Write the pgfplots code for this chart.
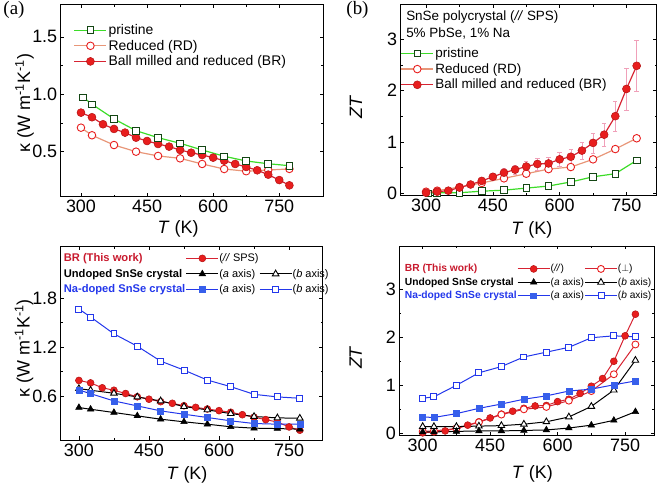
\documentclass[border=0pt]{standalone}
\usepackage{pgfplots}
\pgfplotsset{compat=1.18}
\usepackage{fontspec}
\setmainfont{Liberation Sans}
\newfontfamily\seriffont{Liberation Serif}
\definecolor{cgreen}{RGB}{60,220,40}
\definecolor{cdkgreen}{RGB}{20,70,20}
\definecolor{csalmon}{RGB}{232,150,120}
\definecolor{cred}{RGB}{232,30,30}
\definecolor{cdkred}{RGB}{180,20,20}
\definecolor{cline}{RGB}{215,35,50}
\definecolor{cblue}{RGB}{35,55,235}
\definecolor{cblfill}{RGB}{55,95,235}
\definecolor{cbrtext}{RGB}{200,25,45}
\definecolor{cpink}{RGB}{240,160,185}
\newcommand{\cc}[2]{\fontsize{#1}{12}\selectfont\bfseries #2}
\pgfplotsset{
  base/.style={
    scale only axis, anchor=south west,
    tick align=inside,
    major tick length=3.5bp, minor tick length=2bp,
    xtick={300,450,600,750}, minor x tick num=1, minor y tick num=1,
    every tick/.style={black, line width=0.5pt},
    axis line style={line width=0.8pt},
    tick label style={font=\fontsize{18}{20}\selectfont},
    /pgf/number format/assume math mode=true,
    label style={font=\fontsize{18}{20}\selectfont},
    xlabel={\textit{T} (K)},
    legend cell align=left,
    legend style={draw=none, fill=none, inner sep=0pt, outer sep=0pt, anchor=north west, nodes={inner sep=1.5pt}},
    legend image code/.code={\draw[mark repeat=2,mark phase=2,##1] plot coordinates {(0bp,0bp) (16bp,0bp) (32bp,0bp)};},
  },
  kappa/.style={ylabel={κ (W m\textsuperscript{-1}K\textsuperscript{-1})}},
  prist/.style={color=cgreen, line width=1.2pt, mark=square*, mark size=3.3, mark options={fill=white, draw=cdkgreen, line width=0.9pt}},
  rd/.style={color=csalmon, line width=1.2pt, mark=*, mark size=3.8, mark options={fill=white, draw=cred, line width=0.9pt}},
  br/.style={color=cline, line width=1.2pt, mark=*, mark size=4, mark options={fill=cred, draw=cdkred, line width=0.5pt}},
  brs/.style={color=cline, line width=1pt, mark=*, mark size=3.5, mark options={fill=cred, draw=cdkred, line width=0.5pt}},
  brperp/.style={color=cline, line width=1pt, mark=*, mark size=3.5, mark options={fill=white, draw=cred, line width=0.9pt}},
  unda/.style={color=black, line width=1pt, mark=triangle*, mark size=3.8, mark options={fill=black, draw=black, line width=0.5pt}},
  undb/.style={color=black, line width=1pt, mark=triangle*, mark size=3.8, mark options={fill=white, draw=black, line width=0.9pt}},
  naa/.style={color=cblue, line width=1pt, mark=square*, mark size=3, mark options={fill=cblfill, draw=cblfill, line width=0.5pt}},
  nab/.style={color=cblue, line width=1pt, mark=square*, mark size=3, mark options={fill=white, draw=cblue, line width=0.9pt}},
  smallleg/.style={legend columns=3,
    legend style={nodes={inner sep=0.5pt}, font=\fontsize{#1}{12}\selectfont},
    legend image code/.code={\draw[mark repeat=2,mark phase=2,##1] plot coordinates {(0bp,0bp) (16bp,0bp) (32bp,0bp)};}},
}
\begin{document}
\begin{tikzpicture}
\useasboundingbox (0,0) rectangle (661bp,489bp);
\node[font=\seriffont\fontsize{19}{21}\selectfont] at (14bp,479bp) {(a)};
\node[font=\seriffont\fontsize{19}{21}\selectfont] at (357.5bp,479bp) {(b)};
% ---------------- (a)
\begin{axis}[base, kappa, at={(60.7bp,292.3bp)}, width=262.6bp, height=192bp,
  xmin=254, xmax=850, ymin=0.108, ymax=1.78,
  ytick={0.5,1.0,1.5},
  yticklabel style={/pgf/number format/.cd, fixed, fixed zerofill, precision=1},
  xlabel style={at={(axis description cs:0.447,-0.168)}, anchor=center},
  ylabel style={at={(axis description cs:-0.138,0.488)}, anchor=center},
  legend style={at={(axis description cs:0.05,0.905)}, font=\fontsize{14}{17}\selectfont, row sep=1pt}]
\addplot[rd, forget plot] coordinates {(300,0.709)(325,0.643)(375,0.558)(425,0.5)(475,0.463)(525,0.442)(575,0.393)(625,0.349)(675,0.33)(725,0.34)(773,0.35)};
\addplot[br, forget plot] coordinates {(300,0.84)(325,0.80)(350,0.739)(375,0.698)(400,0.666)(425,0.622)(450,0.593)(475,0.567)(500,0.544)(525,0.515)(550,0.491)(575,0.471)(600,0.448)(625,0.422)(650,0.393)(675,0.367)(700,0.338)(725,0.30)(750,0.253)(773,0.207)};
\addplot[prist, forget plot] coordinates {(305,0.974)(325,0.913)(375,0.785)(425,0.683)(475,0.622)(525,0.573)(575,0.515)(625,0.46)(675,0.419)(725,0.395)(773,0.378)};
\addlegendimage{prist}\addlegendentry{pristine}
\addlegendimage{rd}\addlegendentry{Reduced (RD)}
\addlegendimage{br}\addlegendentry{Ball milled and reduced (BR)}
\end{axis}
% ---------------- (b)
\begin{axis}[base, at={(400.7bp,293.7bp)}, width=256bp, height=190.6bp,
  xmin=243, xmax=818, ymin=-0.04, ymax=3.67,
  ytick={0,1,2,3}, ylabel={\textit{ZT}},
  xlabel style={at={(axis description cs:0.512,-0.182)}, anchor=center},
  ylabel style={at={(axis description cs:-0.175,0.463)}, anchor=center},
  legend style={at={(axis description cs:0.0,0.782)}, font=\fontsize{13.5}{16}\selectfont, row sep=1.5pt}]
\addplot[prist] coordinates {(305,0.0)(325,0.01)(375,0.01)(425,0.04)(475,0.06)(525,0.10)(575,0.14)(625,0.22)(675,0.32)(725,0.38)(773,0.64)};
\addlegendentry{pristine}
\addplot[rd] coordinates {(300,0.03)(325,0.05)(375,0.12)(425,0.2)(475,0.29)(525,0.38)(575,0.47)(625,0.51)(675,0.66)(725,0.86)(773,1.07)};
\addlegendentry{Reduced (RD)}
\addplot[br, error bars/.cd, y dir=both, y explicit,
  error bar style={cpink, line width=0.5pt},
  error mark options={rotate=90, cpink, mark size=2.2pt, line width=0.5pt}]
  coordinates {(300,0.01)+-(0,0.002)(325,0.03)+-(0,0.006)(350,0.05)+-(0,0.01)(375,0.11)+-(0,0.022)(400,0.17)+-(0,0.034)(425,0.24)+-(0,0.048)(450,0.32)+-(0,0.064)(475,0.40)+-(0,0.08)(500,0.46)+-(0,0.092)(525,0.52)+-(0,0.104)(550,0.57)+-(0,0.114)(575,0.58)+-(0,0.116)(600,0.66)+-(0,0.132)(625,0.71)+-(0,0.142)(650,0.83)+-(0,0.166)(675,0.98)+-(0,0.196)(700,1.14)+-(0,0.228)(725,1.50)+-(0,0.30)(750,2.03)+-(0,0.41)(773,2.48)+-(0,0.5)};
\addlegendentry{Ball milled and reduced (BR)}
\node[anchor=west, font=\fontsize{13.5}{16}\selectfont] at (axis description cs:0.008,0.937) {SnSe polycrystal (\textit{//} SPS)};
\node[anchor=west, font=\fontsize{13.5}{16}\selectfont] at (axis description cs:0.008,0.85) {5\% PbSe, 1\% Na};
\end{axis}
% ---------------- (c)
\begin{axis}[base, kappa, smallleg=11, at={(60.7bp,49bp)}, width=262bp, height=193.3bp,
  xmin=261, xmax=822, ymin=0.06, ymax=2.43,
  ytick={0.6,1.2,1.8},
  yticklabel style={/pgf/number format/.cd, fixed, fixed zerofill, precision=1},
  xlabel style={at={(axis description cs:0.482,-0.181)}, anchor=center},
  ylabel style={at={(axis description cs:-0.14,0.474)}, anchor=center},
  legend style={at={(axis description cs:0.01,0.967)}, row sep=5pt}]
\addplot[brs, forget plot] coordinates {(300,0.79)(325,0.76)(350,0.70)(375,0.67)(400,0.63)(425,0.59)(450,0.56)(475,0.53)(500,0.51)(525,0.48)(550,0.46)(575,0.44)(600,0.42)(625,0.40)(650,0.37)(675,0.34)(700,0.31)(725,0.28)(750,0.22)(773,0.18)};
\addplot[undb, forget plot] coordinates {(300,0.69)(325,0.67)(375,0.633)(425,0.588)(475,0.539)(525,0.47)(575,0.429)(625,0.384)(675,0.348)(725,0.331)(773,0.327)};
\addplot[unda, forget plot] coordinates {(300,0.458)(325,0.437)(375,0.397)(425,0.356)(475,0.315)(525,0.283)(575,0.254)(625,0.222)(675,0.205)(725,0.2)(773,0.193)};
\addplot[naa, forget plot] coordinates {(300,0.673)(325,0.628)(375,0.539)(425,0.478)(475,0.417)(525,0.376)(575,0.336)(625,0.295)(675,0.262)(725,0.254)(773,0.254)};
\addplot[nab, forget plot] coordinates {(300,1.666)(325,1.568)(375,1.361)(425,1.21)(475,1.027)(525,0.917)(575,0.795)(625,0.714)(675,0.62)(725,0.588)(773,0.572)};
\addlegendimage{empty legend}\addlegendentry{\cc{11.2}{\textcolor{cbrtext}{BR (This work)}}}
\addlegendimage{brs}\addlegendentry{(\textit{//} SPS)}
\addlegendimage{empty legend}\addlegendentry{}
\addlegendimage{empty legend}\addlegendentry{\cc{11.2}{Undoped SnSe crystal}}
\addlegendimage{unda}\addlegendentry{(\textit{a} axis)}
\addlegendimage{undb}\addlegendentry{(\textit{b} axis)}
\addlegendimage{empty legend}\addlegendentry{\cc{11.2}{\textcolor{cblue}{Na-doped SnSe crystal}}}
\addlegendimage{naa}\addlegendentry{(\textit{a} axis)}
\addlegendimage{nab}\addlegendentry{(\textit{b} axis)}
\end{axis}
% ---------------- (d)
\begin{axis}[base, smallleg=10.2, at={(399.3bp,54bp)}, width=255bp, height=189bp,
  xmin=248, xmax=815, ymin=-0.035, ymax=3.9,
  ytick={0,1,2,3}, ylabel={\textit{ZT}},
  xlabel style={at={(axis description cs:0.522,-0.205)}, anchor=center},
  ylabel style={at={(axis description cs:-0.171,0.41)}, anchor=center},
  legend style={at={(axis description cs:0.02,0.905)}, row sep=3.5pt}]
\addplot[brs, forget plot] coordinates {(300,0.01)(325,0.03)(350,0.05)(375,0.11)(400,0.17)(425,0.24)(450,0.32)(475,0.40)(500,0.46)(525,0.52)(550,0.57)(575,0.58)(600,0.66)(625,0.71)(650,0.83)(675,0.98)(700,1.14)(725,1.50)(750,2.03)(773,2.48)};
\addplot[brperp, forget plot] coordinates {(300,0.04)(325,0.05)(375,0.10)(425,0.23)(475,0.39)(525,0.50)(575,0.55)(625,0.68)(675,0.88)(725,1.23)(773,1.85)};
\addplot[undb, forget plot] coordinates {(300,0.14)(325,0.14)(375,0.14)(425,0.15)(475,0.16)(525,0.19)(575,0.24)(625,0.34)(675,0.56)(725,0.90)(773,1.52)};
\addplot[unda, forget plot] coordinates {(300,0.03)(325,0.03)(375,0.04)(425,0.05)(475,0.05)(525,0.06)(575,0.07)(625,0.11)(675,0.17)(725,0.27)(773,0.45)};
\addplot[naa, forget plot] coordinates {(300,0.34)(325,0.33)(375,0.41)(425,0.52)(475,0.61)(525,0.71)(575,0.78)(625,0.88)(675,0.92)(725,1.01)(773,1.09)};
\addplot[nab, forget plot] coordinates {(300,0.73)(325,0.76)(375,1.0)(425,1.26)(475,1.39)(525,1.59)(575,1.69)(625,1.79)(675,1.99)(725,2.03)(773,2.01)};
\addlegendimage{empty legend}\addlegendentry{\cc{10.3}{\textcolor{cbrtext}{BR (This work)}}}
\addlegendimage{brs}\addlegendentry{(\textit{//})}
\addlegendimage{brperp}\addlegendentry{($\perp$)}
\addlegendimage{empty legend}\addlegendentry{\cc{10.3}{Undoped SnSe crystal}}
\addlegendimage{unda}\addlegendentry{(\textit{a} axis)}
\addlegendimage{undb}\addlegendentry{(\textit{b} axis)}
\addlegendimage{empty legend}\addlegendentry{\cc{10.3}{\textcolor{cblue}{Na-doped SnSe crystal}}}
\addlegendimage{naa}\addlegendentry{(\textit{a} axis)}
\addlegendimage{nab}\addlegendentry{(\textit{b} axis)}
\end{axis}
\end{tikzpicture}
\end{document}
